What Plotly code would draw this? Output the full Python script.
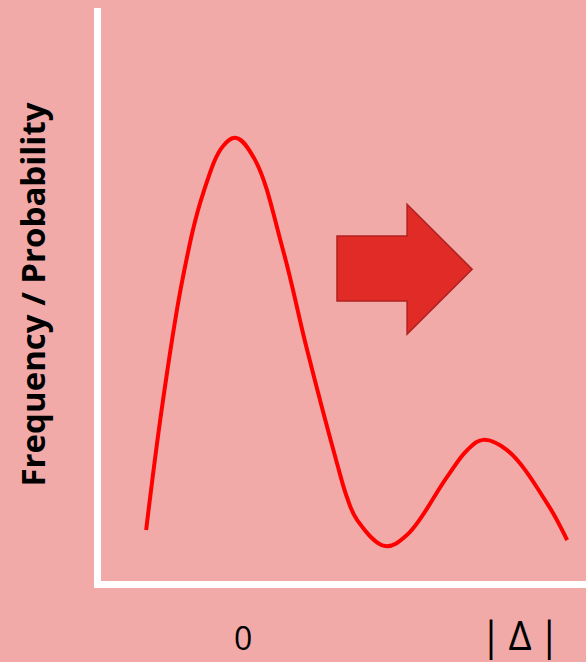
import plotly.graph_objects as go

# curve (x in units of |Δ|, y relative to the main peak)
delta = [-0.350, -0.289, -0.217, -0.144, -0.072, -0.025, 0.043, 0.144,
         0.231, 0.339, 0.375, 0.412, 0.513, 0.592, 0.736, 0.809,
         0.866, 0.953, 1.097, 1.170]
freq = [0.123, 0.413, 0.688, 0.875, 0.980, 0.998, 0.949, 0.748,
        0.525, 0.272, 0.196, 0.145, 0.087, 0.112, 0.241, 0.301,
        0.324, 0.301, 0.183, 0.100]

tick_vals = [0, 1]
tick_text = ["<span style='font-size:32px'>0</span>", "|\u2009Δ\u2009|"]

bg = "#F2AAA9"

fig = go.Figure()
fig.add_trace(go.Scatter(x=delta, y=freq, mode="lines",
                         line=dict(color="#FF0000", width=4, shape="spline", smoothing=1.1),
                         hoverinfo="skip"))

# block arrow pointing right
ax0, ax1, ax2 = 0.339, 0.592, 0.827
ay_top, ay_bot, ah_top, ah_bot, ay_mid = 0.779, 0.634, 0.850, 0.560, 0.705
path = (f"M {ax0},{ay_top} L {ax1},{ay_top} L {ax1},{ah_top} L {ax2},{ay_mid} "
        f"L {ax1},{ah_bot} L {ax1},{ay_bot} L {ax0},{ay_bot} Z")
fig.add_shape(type="path", path=path, xref="x", yref="y",
              fillcolor="#E02B27", line=dict(color="#B02220", width=1.5))

fig.update_layout(
    width=586, height=662,
    paper_bgcolor=bg, plot_bgcolor=bg,
    margin=dict(l=101, r=0, t=8, b=81),
    showlegend=False,
    font=dict(family="Open Sans", color="black"),
)
fig.update_xaxes(range=[-0.513, 1.238], showgrid=False, zeroline=False,
                 showline=True, linecolor="white", linewidth=7,
                 tickvals=tick_vals, ticktext=tick_text, ticks="",
                 ticklabelstandoff=14, tickfont=dict(size=40))
fig.update_yaxes(range=[0.009, 1.288], showgrid=False, zeroline=False,
                 showline=True, linecolor="white", linewidth=7,
                 showticklabels=False, ticks="",
                 title=dict(text="<b>Frequency / Probability</b>",
                            font=dict(size=33), standoff=41))

fig.write_html("out.html", config={"displayModeBar": False},
               post_script="document.body.style.margin='0';")
